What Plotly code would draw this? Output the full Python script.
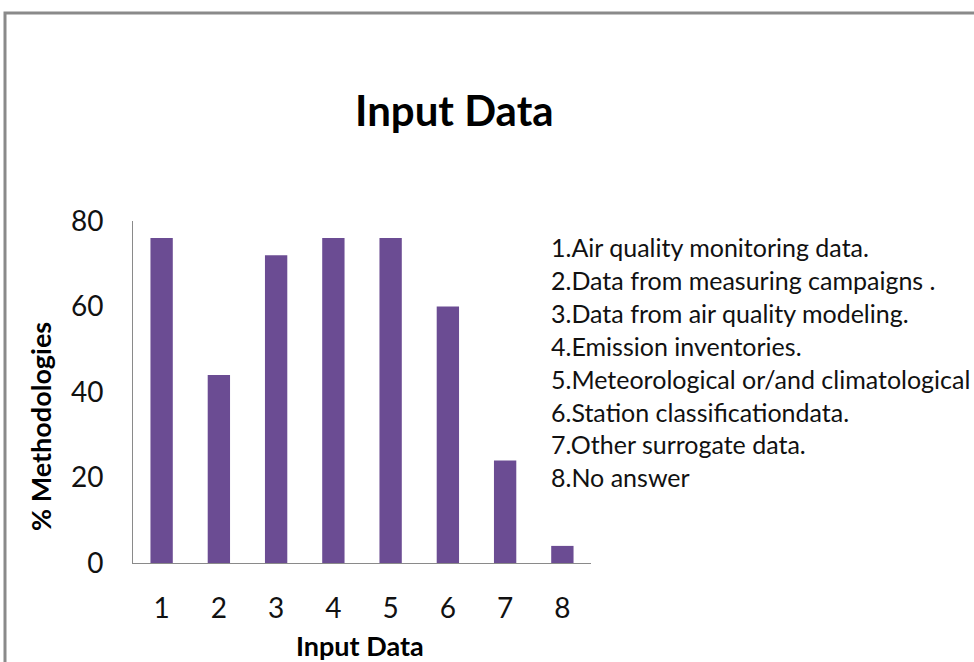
import plotly.graph_objects as go

categories = [1, 2, 3, 4, 5, 6, 7, 8]
values = [76, 44, 72, 76, 76, 60, 24, 4]
tick_labels = ["1", "2", "3", "4", "5", "6", "7", "8"]
legend_lines = [
    "1.Air quality monitoring data.",
    "2.Data from measuring campaigns .",
    "3.Data from air quality modeling.",
    "4.Emission inventories.",
    "5.Meteorological or/and climatological",
    "6.Station classificationdata.",
    "7.Other surrogate data.",
    "8.No answer",
]
y_ticks = [0, 20, 40, 60, 80]

W, H = 974, 662
L, R, T, B = 133, 591, 221, 563
FONT = "Lato"


def px(x):
    return (x - L) / (R - L)


def py(y):
    return (B - y) / (B - T)


fig = go.Figure()
fig.add_trace(go.Bar(
    x=categories, y=values, width=0.39,
    marker=dict(color="#6b4c93", line=dict(width=0)),
))


def ann(text, x, y, size, xanchor="center", angle=0, color="#000"):
    return dict(text=text, x=px(x), y=py(y), xref="paper", yref="paper",
                xanchor=xanchor, yanchor="middle", showarrow=False, textangle=angle,
                font=dict(size=size, color=color, family=FONT))


annotations = [
    ann("<b>Input Data</b>", 454, 110, 42),
    ann("<b>% Methodologies</b>", 40, 427, 27, angle=-90),
    ann("<b>Input Data</b>", 360, 645, 27),
]
for i, t in enumerate(legend_lines):
    annotations.append(ann(t, 549, 247 + i * 32.9, 25, xanchor="left", color="#111"))

fig.update_layout(
    width=W, height=H,
    margin=dict(l=L, r=W - R, t=T, b=H - B, pad=0),
    paper_bgcolor="white", plot_bgcolor="white",
    showlegend=False,
    font=dict(family=FONT, color="#111"),
    annotations=annotations,
    shapes=[dict(type="rect", xref="paper", yref="paper",
                 x0=px(5), x1=px(990), y0=py(13), y1=py(700),
                 line=dict(color="#8a8a8a", width=3), fillcolor="rgba(0,0,0,0)", layer="above")],
    xaxis=dict(range=[0.5, 8.5], tickvals=categories, ticktext=tick_labels,
               showline=True, linecolor="#8a8a8a", linewidth=1, showgrid=False, zeroline=False,
               ticks="", ticklabelstandoff=20, tickfont=dict(size=28, color="#111", family=FONT)),
    yaxis=dict(range=[0, 80], tickvals=y_ticks, showline=True, linecolor="#8a8a8a", linewidth=1,
               showgrid=False, zeroline=False, ticks="", ticklabelstandoff=23,
               tickfont=dict(size=28, color="#111", family=FONT)),
)

fig.write_html("out.html", config={"displayModeBar": False},
               post_script="document.body.style.margin='0';document.body.style.overflow='hidden';")
